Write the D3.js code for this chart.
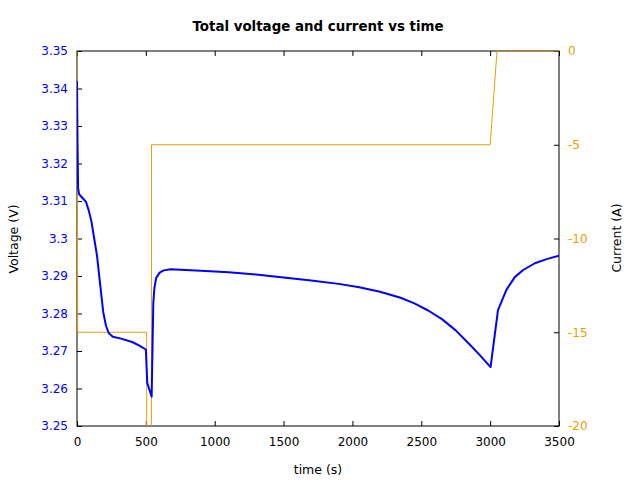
<!DOCTYPE html>
<html><head><meta charset="utf-8">
<script src="https://cdn.jsdelivr.net/npm/d3@7"></script>
<style>body{margin:0;background:#fff}svg{display:block}text{font-family:"DejaVu Sans",sans-serif}</style>
</head><body>
<svg id="c" width="640" height="480"></svg>
<script>
const title = "Total voltage and current vs time";
const xTicks = [0,500,1000,1500,2000,2500,3000,3500];
const vTicks = [3.25,3.26,3.27,3.28,3.29,3.30,3.31,3.32,3.33,3.34,3.35];
const iTicks = [-20,-15,-10,-5,0];
const voltTime = [0,4,8,15,40,65,85,105,125,145,160,175,190,210,230,260,320,400,450,500,510,542,554,562,575,600,630,680,900,1100,1300,1500,1700,1900,2050,2200,2350,2450,2550,2650,2750,2850,2925,3003,3057,3118,3179,3240,3325,3410,3500];
const voltage = [3.342,3.325,3.3135,3.3118,3.3108,3.3098,3.3075,3.3045,3.3000,3.2955,3.2905,3.2855,3.2805,3.2768,3.2748,3.2738,3.2733,3.2724,3.2715,3.2704,3.2615,3.2578,3.2827,3.2868,3.2895,3.2909,3.2915,3.2918,3.2914,3.2910,3.2904,3.2896,3.2888,3.2879,3.2870,3.2858,3.2842,3.2827,3.2808,3.2785,3.2755,3.2718,3.2689,3.2657,3.2809,3.2863,3.2897,3.2916,3.2934,3.2945,3.2954];
const currTime = [0,5,506,507,540,541,3000,3050,3500];
const current = [0,-15,-15,-30,-30,-5,-5,0,0];

const svg = d3.select("#c");
const L=77,R=559,T=51,B=426;
const x = d3.scaleLinear().domain([0,3500]).range([L,R]);
const yV = d3.scaleLinear().domain([3.25,3.35]).range([B,T]);
const yI = d3.scaleLinear().domain([-20,0]).range([B,T]);
const blue="#0000ff", orange="#e69f00";

svg.append("defs").append("clipPath").attr("id","clip").append("rect")
  .attr("x",L).attr("y",T).attr("width",R-L).attr("height",B-T);

svg.append("text").attr("x",318).attr("y",31).attr("text-anchor","middle")
  .attr("font-weight","bold").attr("font-size",13.4).text(title);

const tl=5, fs=12;
const gB = svg.append("g").attr("transform",`translate(0,${B})`).call(d3.axisBottom(x).tickValues(xTicks).tickSize(-tl).tickPadding(11).tickFormat(d3.format("d")));
const gT = svg.append("g").attr("transform",`translate(0,${T})`).call(d3.axisTop(x).tickValues(xTicks).tickSize(-tl).tickFormat(""));
const gL = svg.append("g").attr("transform",`translate(${L},0)`).call(d3.axisLeft(yV).tickValues(vTicks).tickSize(-tl).tickPadding(9).tickFormat(d=>String(+d.toFixed(2))));
const gR = svg.append("g").attr("transform",`translate(${R},0)`).call(d3.axisRight(yI).tickValues(iTicks).tickSize(-tl).tickPadding(9).tickFormat(d=>String(d)));
[gB,gT,gL,gR].forEach(g=>{g.select(".domain").remove();g.selectAll("line").attr("stroke","#000");g.selectAll("text").attr("font-size",fs).attr("font-family","DejaVu Sans, sans-serif");});
gB.selectAll("text").attr("fill","#000");
gL.selectAll("text").attr("fill",blue);
gR.selectAll("text").attr("fill",orange);

svg.append("rect").attr("x",L).attr("y",T).attr("width",R-L).attr("height",B-T)
  .attr("fill","none").attr("stroke","#000").attr("stroke-width",1);

const pl = svg.append("g").attr("clip-path","url(#clip)");
pl.append("path").datum(currTime.map((t,i)=>[t,current[i]]))
  .attr("fill","none").attr("stroke",orange).attr("stroke-width",1)
  .attr("d",d3.line().x(d=>x(d[0])).y(d=>yI(d[1])));
pl.append("path").datum(voltTime.map((t,i)=>[t,voltage[i]]))
  .attr("fill","none").attr("stroke",blue).attr("stroke-width",2).attr("stroke-linejoin","round")
  .attr("d",d3.line().x(d=>x(d[0])).y(d=>yV(d[1])));

svg.append("text").attr("x",318).attr("y",474).attr("text-anchor","middle").attr("font-size",12.5).text("time (s)");
svg.append("text").attr("transform","translate(18,239) rotate(-90)").attr("text-anchor","middle").attr("font-size",12.5).text("Voltage (V)");
svg.append("text").attr("transform","translate(621,238) rotate(-90)").attr("text-anchor","middle").attr("font-size",12.5).text("Current (A)");
</script>
</body></html>
